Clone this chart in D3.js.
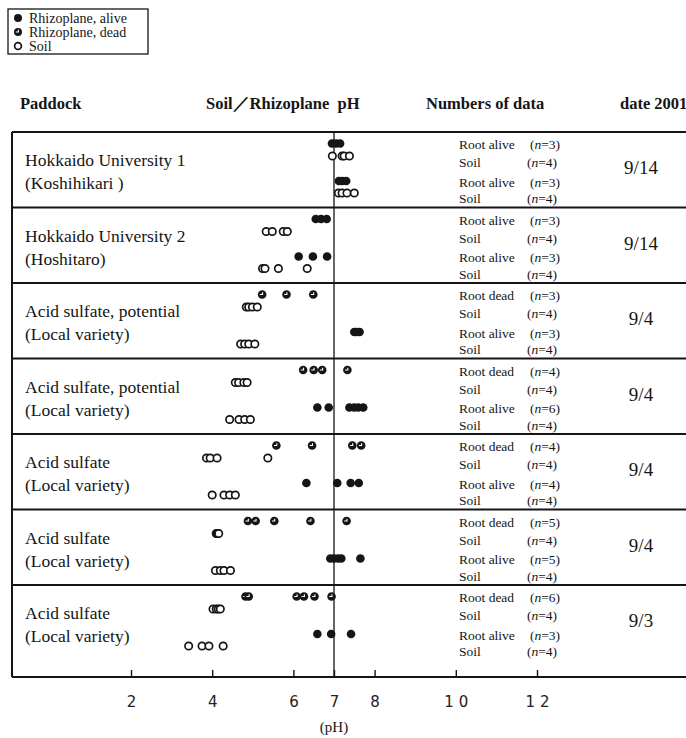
<!DOCTYPE html>
<html>
<head>
<meta charset="utf-8">
<script src="https://cdn.jsdelivr.net/npm/d3@7"></script>
<style>
  body { margin: 0; background: #fff; }
  svg { display: block; }
</style>
</head>
<body>
<script>
// Paddock names (two lines each) and sampling dates
const paddockNames = [
  "Hokkaido University 1", "Hokkaido University 2",
  "Acid sulfate, potential", "Acid sulfate, potential",
  "Acid sulfate", "Acid sulfate", "Acid sulfate"
];
const varieties = [
  "(Koshihikari )", "(Hoshitaro)", "(Local variety)", "(Local variety)",
  "(Local variety)", "(Local variety)", "(Local variety)"
];
const sampleDates = ["9/14", "9/14", "9/4", "9/4", "9/4", "9/4", "9/3"];

// State of the roots in the first rhizoplane line of each paddock
const firstRootState = ["alive", "alive", "dead", "dead", "dead", "dead", "dead"];

// pH readings, one array per line of each paddock
const rhizoFirst = [
  [6.95, 7.05, 7.15],
  [6.55, 6.68, 6.82],
  [5.23, 5.83, 6.49],
  [6.24, 6.50, 6.71, 7.33],
  [5.58, 6.46, 7.45, 7.67],
  [4.88, 5.07, 5.53, 6.42, 7.31],
  [4.82, 4.90, 6.08, 6.26, 6.52, 6.94]
];
const soilFirst = [
  [6.96, 7.20, 7.25, 7.38],
  [5.33, 5.48, 5.75, 5.85],
  [4.84, 4.90, 4.99, 5.11],
  [4.57, 4.65, 4.78, 4.86],
  [3.86, 3.95, 4.12, 5.37],
  [4.10, 4.12, 4.14, 4.16],
  [4.02, 4.10, 4.15, 4.20]
];
const rhizoAlive = [
  [7.12, 7.20, 7.30],
  [6.13, 6.48, 6.83],
  [7.50, 7.56, 7.63],
  [6.59, 6.87, 7.38, 7.50, 7.60, 7.72],
  [6.32, 7.08, 7.41, 7.61],
  [6.91, 7.00, 7.10, 7.18, 7.65],
  [6.59, 6.93, 7.42]
];
const soilSecond = [
  [7.11, 7.20, 7.32, 7.50],
  [5.24, 5.30, 5.63, 6.34],
  [4.70, 4.80, 4.90, 5.05],
  [4.43, 4.66, 4.80, 4.94],
  [4.00, 4.29, 4.43, 4.57],
  [4.08, 4.20, 4.29, 4.45],
  [3.42, 3.75, 3.92, 4.27]
];

const phTicks = [2, 4, 6, 7, 8, 10, 12];
const legendItems = [
  ["alive", "Rhizoplane, alive"],
  ["dead", "Rhizoplane, dead"],
  ["soil", "Soil"]
];
const headers = ["Paddock", "Soil\uFF0FRhizoplane  pH", "Numbers of data", "date 2001"];

// ---- layout ----
const W = 686, H = 738;
const serif = "'Liberation Serif', 'Times New Roman', serif";
const ink = "#151515";
const tableLeft = 12, tableRight = 690, tableTop = 132, rowH = 75.5, axisY = 677;
const dotOffset = [11.5, 24, 49, 61];
const textOffset = [12.7, 30.5, 50, 66.7];
const R = 4.3;

const svg = d3.select("body").append("svg")
  .attr("width", W).attr("height", H)
  .attr("font-family", serif);

const x = d3.scaleLinear().domain([2, 12]).range([131, 537]);
const y = d3.scaleBand()
  .domain(d3.range(paddockNames.length))
  .range([tableTop, tableTop + rowH * paddockNames.length]);

function drawMark(g, type, cx, cy, r) {
  if (type === "soil") {
    g.append("circle").attr("cx", cx).attr("cy", cy).attr("r", r - 0.6)
      .attr("fill", "#fff").attr("stroke", ink).attr("stroke-width", 1.7);
  } else {
    g.append("circle").attr("cx", cx).attr("cy", cy).attr("r", r).attr("fill", ink);
    if (type === "dead") {
      g.append("path")
        .attr("d", `M${cx - r * 0.55},${cy} H${cx + 0.4} V${cy - r * 0.55}`)
        .attr("fill", "none").attr("stroke", "#fff").attr("stroke-width", 1.1);
    }
  }
}

// ---- legend ----
const legend = svg.append("g");
legend.append("rect").attr("x", 8).attr("y", 9).attr("width", 140).attr("height", 45)
  .attr("fill", "none").attr("stroke", ink).attr("stroke-width", 1.3);
legendItems.forEach(([type, label], i) => {
  const cy = 18 + i * 14;
  drawMark(legend, type, 18, cy, 4);
  legend.append("text").attr("x", 29).attr("y", cy + 4.5)
    .attr("font-size", 14).attr("fill", ink).text(label);
});

// ---- column headers ----
const headerX = [20, 206, 426, 620];
svg.append("g").selectAll("text").data(headers).join("text")
  .attr("x", (d, i) => headerX[i]).attr("y", 109)
  .attr("font-size", 16.5).attr("font-weight", "bold").attr("fill", ink)
  .attr("xml:space", "preserve")
  .text(d => d);

// ---- table frame ----
const frame = svg.append("g").attr("stroke", ink).attr("fill", "none");
frame.append("line").attr("x1", tableLeft).attr("x2", tableRight)
  .attr("y1", tableTop).attr("y2", tableTop).attr("stroke-width", 2);
frame.selectAll("line.sep").data(d3.range(1, paddockNames.length)).join("line")
  .attr("class", "sep")
  .attr("x1", tableLeft).attr("x2", tableRight)
  .attr("y1", d => y(d)).attr("y2", d => y(d)).attr("stroke-width", 1.8);
frame.append("line").attr("x1", tableLeft).attr("x2", tableLeft)
  .attr("y1", tableTop).attr("y2", axisY).attr("stroke-width", 2);
frame.append("line").attr("x1", x(7)).attr("x2", x(7))
  .attr("y1", tableTop).attr("y2", axisY).attr("stroke-width", 1.3);

// ---- axis ----
const axis = svg.append("g").attr("transform", `translate(0,${axisY})`)
  .call(d3.axisBottom(x).tickValues(phTicks).tickSize(-7).tickSizeOuter(0).tickPadding(19));
axis.select(".domain").remove();
axis.selectAll(".tick line").attr("stroke", ink).attr("stroke-width", 1.4);
axis.selectAll(".tick text")
  .attr("font-family", "'DejaVu Sans', sans-serif").attr("font-size", 15)
  .attr("fill", "#222")
  .attr("letter-spacing", d => d >= 10 ? 5 : 0)
  .attr("dx", d => d >= 10 ? 2.5 : 0);
svg.append("line").attr("x1", tableLeft).attr("x2", tableRight)
  .attr("y1", axisY).attr("y2", axisY).attr("stroke", ink).attr("stroke-width", 2);
svg.append("text").attr("x", x(7)).attr("y", 732).attr("text-anchor", "middle")
  .attr("font-size", 15).attr("fill", ink).text("(pH)");

// ---- rows ----
paddockNames.forEach((name, i) => {
  const top = y(i);
  const g = svg.append("g");
  g.append("text").attr("x", 25).attr("y", top + 34).attr("font-size", 17.5)
    .attr("fill", ink).text(name);
  g.append("text").attr("x", 25).attr("y", top + 57).attr("font-size", 17.5)
    .attr("fill", ink).text(varieties[i]);
  g.append("text").attr("x", 641).attr("y", top + 42).attr("text-anchor", "middle")
    .attr("font-size", 19).attr("fill", ink).text(sampleDates[i]);

  const lines = [
    { type: firstRootState[i], vals: rhizoFirst[i], label: firstRootState[i] === "alive" ? "Root alive" : "Root dead" },
    { type: "soil", vals: soilFirst[i], label: "Soil" },
    { type: "alive", vals: rhizoAlive[i], label: "Root alive" },
    { type: "soil", vals: soilSecond[i], label: "Soil" }
  ];
  lines.forEach((ln, k) => {
    const ty = top + textOffset[k] + 4.5;
    g.append("text").attr("x", 459).attr("y", ty).attr("font-size", 13.5)
      .attr("fill", ink).text(ln.label);
    const n = g.append("text").attr("x", ln.type === "soil" ? 527 : 530).attr("y", ty)
      .attr("font-size", 13.5).attr("fill", ink);
    n.append("tspan").text("(");
    n.append("tspan").attr("font-style", "italic").text("n");
    n.append("tspan").text(`=${ln.vals.length})`);
  });
  lines.forEach((ln, k) => {
    ln.vals.forEach(v => drawMark(g, ln.type, x(v), top + dotOffset[k], R));
  });
});
</script>
</body>
</html>
